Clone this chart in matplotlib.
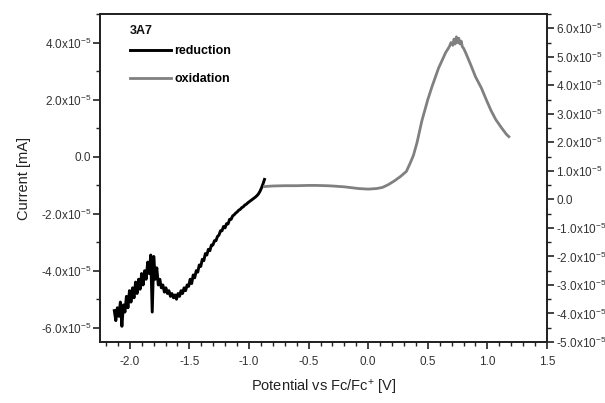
import numpy as np
import matplotlib
matplotlib.use("Agg")
import matplotlib.pyplot as plt
from matplotlib.ticker import MultipleLocator, FixedLocator, FuncFormatter

plt.rcParams['font.family'] = ['Liberation Sans', 'DejaVu Sans']
plt.rcParams['mathtext.fontset'] = 'custom'
plt.rcParams['mathtext.rm'] = 'Liberation Sans'
plt.rcParams['mathtext.it'] = 'Liberation Sans:italic'
plt.rcParams['mathtext.bf'] = 'Liberation Sans:bold'

# ---- data (current in units of 1e-5 mA) ----
red_x_start, red_x_end = -2.13, -0.87
reduction_y = [
    -5.4, -5.75, -5.3, -5.6, -5.1, -5.95, -5.2, -5.45, -4.9, -5.3,
    -4.7, -5.1, -4.6, -4.95, -4.4, -4.8, -4.3, -4.65, -4.1, -4.5,
    -4.0, -4.3, -3.7, -4.1, -3.45, -5.45, -3.5, -4.3, -3.9, -4.5,
    -4.3, -4.6, -4.5, -4.75, -4.6, -4.8, -4.7, -4.9, -4.8, -4.95,
    -4.85, -5.0, -4.8, -4.9, -4.7, -4.8, -4.6, -4.7, -4.5, -4.55,
    -4.3, -4.45, -4.15, -4.25, -4.0, -4.05, -3.8, -3.85, -3.6, -3.65,
    -3.4, -3.45, -3.25, -3.3, -3.1, -3.1, -2.95, -2.95, -2.8, -2.75,
    -2.6, -2.6, -2.45, -2.5, -2.35, -2.36, -2.2, -2.2, -2.08, -2.04,
    -1.98, -1.94, -1.88, -1.85, -1.79, -1.76, -1.7, -1.67, -1.62, -1.58,
    -1.54, -1.5, -1.46, -1.42, -1.37, -1.31, -1.22, -1.1, -0.96, -0.8,
]

oxidation_x = [
    -0.87, -0.8, -0.7, -0.6, -0.5, -0.44, -0.35, -0.3, -0.2, -0.08,
    0.0, 0.07, 0.12, 0.17, 0.22, 0.27, 0.32, 0.35, 0.38, 0.41,
    0.45, 0.5, 0.535, 0.59, 0.65, 0.68, 0.695, 0.71, 0.72, 0.73,
    0.74, 0.75, 0.76, 0.77, 0.78, 0.79, 0.80, 0.82, 0.86, 0.90,
    0.95, 0.99, 1.03, 1.07, 1.12, 1.16, 1.18,
]
oxidation_y = [
    0.45, 0.47, 0.48, 0.48, 0.49, 0.49, 0.48, 0.47, 0.44, 0.38,
    0.36, 0.38, 0.42, 0.52, 0.65, 0.8, 0.98, 1.25, 1.55, 2.0,
    2.75, 3.5, 3.95, 4.6, 5.15, 5.35, 5.5, 5.4, 5.62, 5.45,
    5.7, 5.5, 5.65, 5.45, 5.55, 5.35, 5.3, 5.12, 4.72, 4.3,
    3.9, 3.5, 3.12, 2.8, 2.5, 2.28, 2.2,
]

left_ticks = [-6, -4, -2, 0, 2, 4]
right_ticks = [-5, -4, -3, -2, -1, 0, 1, 2, 3, 4, 5, 6]
x_ticks = [-2.0, -1.5, -1.0, -0.5, 0.0, 0.5, 1.0, 1.5]

SCALE = 1e-5
red_x = np.linspace(red_x_start, red_x_end, len(reduction_y))
red_y = np.array(reduction_y) * SCALE
ox_x = np.array(oxidation_x)
ox_y = np.array(oxidation_y) * SCALE

fig = plt.figure(figsize=(6.05, 4.03), dpi=100)
ax = fig.add_axes([100/605, 1 - 342/403, 447/605, 328/403])
ax2 = ax.twinx()

l1, = ax.plot(red_x, red_y, color='black', lw=2.1, label='reduction')
l2, = ax2.plot(ox_x, ox_y, color='#808080', lw=2.0, label='oxidation')

ax.set_xlim(-2.25, 1.5)
ax.set_ylim(-6.5e-5, 5.0e-5)
ax2.set_ylim(-5.0e-5, 6.5e-5)

def fmt(v, pos):
    m = v / SCALE
    if abs(m) < 1e-9:
        return "0.0"
    return f"{m:.1f}x10$^{{-5}}$"

ax.yaxis.set_major_locator(FixedLocator([t * SCALE for t in left_ticks]))
ax.yaxis.set_minor_locator(MultipleLocator(1e-5))
ax.yaxis.set_major_formatter(FuncFormatter(fmt))
ax2.yaxis.set_major_locator(FixedLocator([t * SCALE for t in right_ticks]))
ax2.yaxis.set_minor_locator(MultipleLocator(0.5e-5))
ax2.yaxis.set_major_formatter(FuncFormatter(fmt))
ax.xaxis.set_major_locator(FixedLocator(x_ticks))
ax.xaxis.set_minor_locator(MultipleLocator(0.1))
ax.xaxis.set_major_formatter(FuncFormatter(lambda v, p: f"{v:.1f}"))

tc = '#333333'
for a in (ax, ax2):
    for s in a.spines.values():
        s.set_linewidth(1.3)
        s.set_color('#222222')
    a.tick_params(which='major', direction='out', length=5, width=1.2,
                  labelsize=8.5, labelcolor=tc, color='#222222', pad=1.5)
    a.tick_params(which='minor', direction='out', length=3, width=1.0,
                  color='#222222')
ax.tick_params(axis='x', pad=5)

ax.set_xlabel(r"Potential vs Fc/Fc$^{+}$ [V]", fontsize=10.5, color='#222222', labelpad=7)
ax.set_ylabel("Current [mA]", fontsize=10.5, color='#222222', labelpad=7)

ax.text(30/447, (342 - 30.5)/328, "3A7", transform=ax.transAxes,
        fontsize=9, fontweight='bold', ha='left', va='center', color='#111111')
leg = ax.legend(handles=[l1, l2], loc='upper left',
                bbox_to_anchor=(30/447, (342 - 45.5)/328), frameon=False,
                prop={'weight': 'bold', 'size': 9},
                handlelength=3.3, handletextpad=0.25, labelspacing=1.25,
                borderaxespad=0, borderpad=0)

fig.savefig("out.png", dpi=100)
